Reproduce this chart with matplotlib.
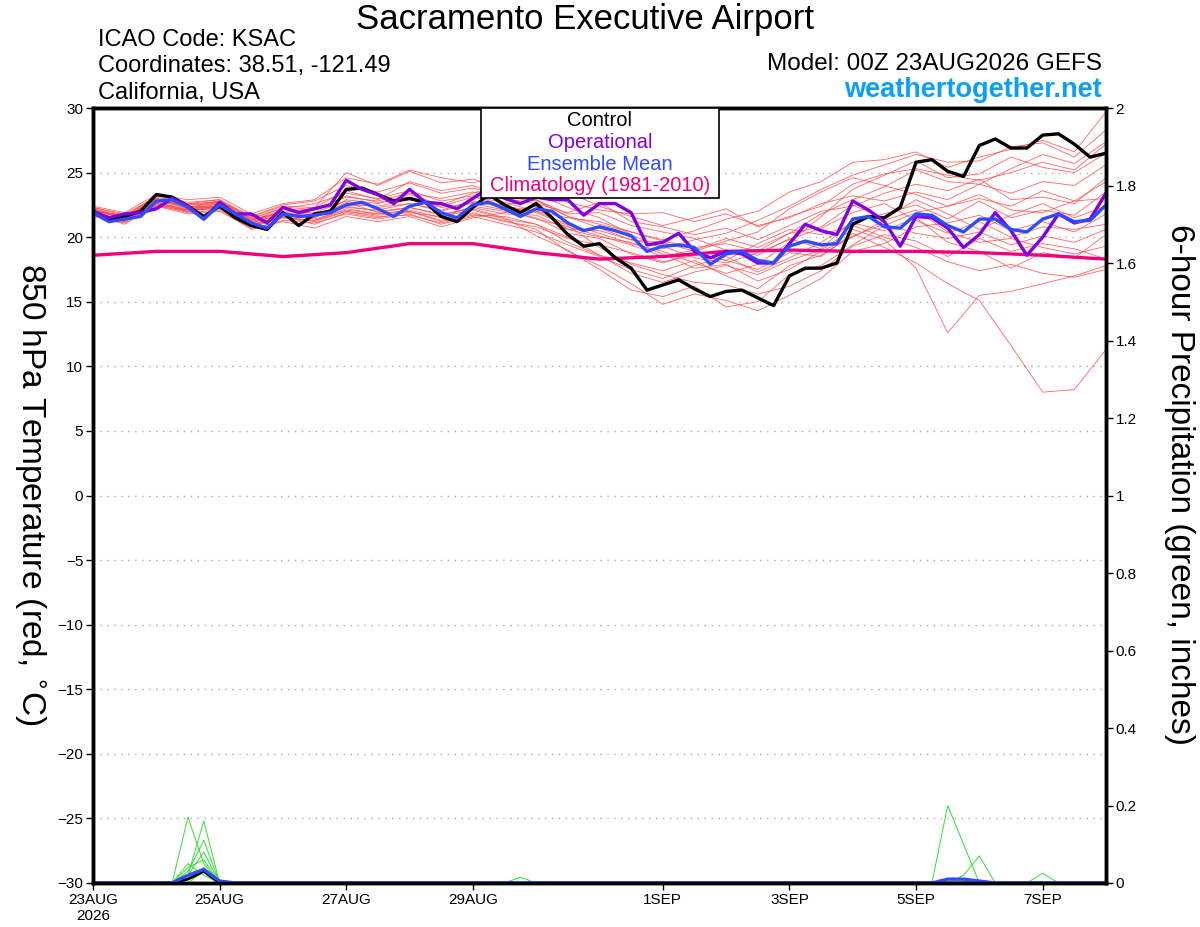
import matplotlib
matplotlib.use("Agg")
import matplotlib.pyplot as plt
import numpy as np
from matplotlib.patches import Rectangle

plt.rcParams.update({
    "font.family": ["Liberation Sans", "DejaVu Sans"],
    "font.size": 11,
})

# 6-hourly forecast steps, 00Z 23AUG2026 .. 00Z 08SEP2026
steps = np.arange(65) * 0.25           # days
member_steps = np.arange(33) * 0.5     # members read at 12-hourly points
clim_days = np.arange(17)

control = [22.0, 21.4, 21.6, 22.0, 23.3, 23.1, 22.4, 21.6, 22.4, 21.5, 20.9, 20.6, 21.9, 20.9, 21.8, 22.0,
           23.7, 23.8, 23.3, 22.8, 23.0, 22.7, 21.6, 21.2, 22.3, 23.3, 22.5, 21.9, 22.6, 21.5, 20.2, 19.3,
           19.5, 18.4, 17.6, 15.9, 16.3, 16.7, 16.0, 15.4, 15.8, 15.9, 15.3, 14.7, 17.0, 17.6, 17.6, 18.0,
           21.0, 21.6, 21.5, 22.3, 25.8, 26.0, 25.1, 24.7, 27.1, 27.6, 26.9, 26.9, 27.9, 28.0, 27.2, 26.2, 26.5]
operational = [22.0, 21.5, 21.8, 21.9, 22.2, 23.0, 22.4, 21.4, 22.7, 21.8, 21.8, 21.1, 22.3, 21.9, 22.2, 22.5,
               24.4, 23.7, 23.3, 22.6, 23.7, 22.7, 22.6, 22.2, 23.0, 23.8, 23.0, 22.6, 23.1, 22.9, 22.9, 21.7,
               22.6, 22.6, 21.9, 19.4, 19.6, 20.3, 18.9, 18.4, 18.9, 18.7, 18.0, 18.0, 19.5, 21.0, 20.5, 20.2,
               22.8, 22.1, 21.2, 19.3, 21.6, 21.5, 20.7, 19.2, 20.2, 21.9, 20.5, 18.6, 20.0, 21.8, 21.1, 21.4, 23.4]
ens_mean = [21.9, 21.2, 21.4, 21.6, 22.8, 22.9, 22.3, 21.4, 22.5, 21.8, 21.1, 20.7, 21.8, 21.6, 21.7, 21.9,
            22.5, 22.7, 22.2, 21.6, 22.4, 22.7, 21.9, 21.5, 22.5, 22.7, 22.2, 21.6, 22.2, 22.0, 21.1, 20.5,
            20.8, 20.5, 20.1, 18.9, 19.3, 19.4, 19.2, 17.9, 18.7, 18.9, 18.2, 18.0, 19.3, 19.7, 19.4, 19.5,
            21.4, 21.6, 20.8, 20.7, 21.8, 21.7, 20.9, 20.4, 21.4, 21.4, 20.6, 20.4, 21.4, 21.8, 21.2, 21.3, 22.5]
climatology = [18.6, 18.9, 18.9, 18.5, 18.8, 19.5, 19.5, 18.8, 18.3, 18.5, 18.9, 19.0, 18.9, 18.9, 18.8, 18.6, 18.3]

members = [
    [22.3, 21.8, 23.1, 22.6, 22.9, 21.6, 22.5, 22.8, 24.0, 23.5, 24.2, 23.4, 23.8, 23.2, 22.9, 21.6, 21.0,
     20.4, 19.8, 20.5, 21.4, 22.0, 23.5, 24.3, 25.8, 26.0, 26.6, 25.4, 26.2, 26.8, 27.5, 26.6, 29.7],
    [21.8, 21.3, 22.9, 22.2, 22.6, 21.3, 22.1, 22.3, 25.0, 24.0, 25.1, 24.2, 24.5, 23.7, 23.4, 22.3, 21.5,
     20.2, 19.1, 19.8, 20.3, 21.3, 22.4, 23.7, 24.8, 25.6, 26.4, 25.8, 25.9, 27.0, 27.3, 26.2, 28.3],
    [22.1, 21.6, 23.0, 22.5, 22.8, 21.4, 21.9, 21.5, 22.9, 22.6, 23.3, 22.5, 23.4, 24.2, 25.1, 23.5, 22.4,
     21.6, 20.9, 21.5, 22.2, 20.8, 21.6, 22.4, 24.1, 24.9, 25.3, 24.8, 24.4, 25.0, 25.8, 25.2, 27.2],
    [21.7, 21.2, 22.6, 22.0, 22.3, 20.9, 21.5, 21.3, 22.2, 21.8, 22.0, 21.3, 21.9, 21.2, 20.8, 19.9, 19.4,
     18.8, 18.1, 18.6, 18.2, 17.5, 18.8, 18.5, 20.3, 19.2, 18.0, 16.4, 15.1, 11.6, 8.0, 8.2, 11.3],
    [22.0, 21.5, 22.7, 22.4, 22.2, 20.9, 21.6, 21.2, 22.0, 21.7, 21.9, 21.6, 22.1, 21.4, 21.0, 20.0, 18.6,
     17.2, 16.5, 17.3, 17.8, 17.1, 18.2, 19.0, 20.6, 19.8, 17.6, 12.6, 15.5, 15.8, 16.4, 17.0, 17.8],
    [21.9, 21.3, 22.5, 22.1, 22.4, 21.0, 21.6, 21.0, 21.9, 21.5, 22.0, 21.2, 21.8, 21.3, 20.6, 18.9, 17.8,
     16.4, 14.8, 15.6, 15.1, 14.3, 15.5, 16.8, 18.9, 19.5, 20.8, 21.1, 21.7, 20.5, 21.2, 20.4, 21.8],
    [22.2, 21.5, 22.7, 22.1, 22.6, 21.2, 21.9, 21.6, 22.4, 22.0, 22.3, 21.8, 22.2, 21.5, 20.1, 19.0, 17.5,
     15.9, 15.4, 16.2, 14.6, 15.0, 17.1, 17.8, 19.4, 20.9, 21.9, 22.4, 23.0, 22.4, 23.6, 22.8, 24.3],
    [21.8, 21.4, 22.9, 22.4, 22.3, 21.2, 21.7, 21.9, 22.8, 22.3, 22.6, 22.0, 22.7, 22.5, 22.9, 21.8, 21.9,
     20.9, 20.4, 19.9, 19.0, 18.6, 19.9, 19.1, 21.3, 21.8, 22.5, 21.4, 22.8, 21.5, 22.1, 21.7, 23.5],
    [22.4, 21.9, 23.3, 22.9, 23.1, 21.8, 22.6, 22.9, 24.6, 24.1, 25.2, 24.6, 24.2, 24.8, 23.9, 22.7, 22.1,
     21.8, 21.9, 21.2, 21.8, 20.9, 21.5, 22.6, 23.2, 22.8, 23.5, 22.9, 24.1, 23.4, 24.3, 24.0, 25.6],
    [21.6, 21.1, 22.4, 21.8, 22.0, 20.7, 21.2, 20.7, 21.6, 21.2, 21.6, 20.8, 21.5, 21.9, 22.4, 20.6, 20.0,
     19.6, 18.7, 17.6, 17.9, 16.6, 17.5, 18.9, 20.0, 21.3, 22.1, 20.4, 19.6, 19.9, 19.2, 18.7, 19.3],
    [22.0, 21.7, 22.8, 22.6, 22.7, 21.5, 22.2, 22.6, 23.4, 23.0, 23.6, 22.8, 23.2, 22.4, 22.0, 21.0, 20.3,
     19.5, 18.9, 18.0, 17.2, 17.9, 19.6, 21.6, 23.7, 24.8, 25.9, 24.6, 24.9, 26.2, 25.4, 25.0, 26.5],
    [21.9, 21.2, 22.6, 22.0, 22.5, 21.1, 21.8, 21.4, 22.1, 21.8, 22.1, 21.5, 22.4, 22.0, 21.5, 20.3, 19.9,
     18.7, 18.0, 18.8, 18.2, 19.5, 20.6, 20.2, 20.9, 20.0, 19.2, 18.1, 17.4, 17.9, 17.2, 16.9, 17.5],
    [22.2, 21.6, 23.2, 22.7, 22.9, 21.4, 22.3, 21.8, 22.5, 22.4, 22.9, 22.4, 23.1, 22.7, 22.0, 21.5, 21.2,
     20.4, 19.7, 19.2, 19.5, 18.9, 20.3, 20.8, 22.5, 21.4, 22.9, 21.8, 20.6, 21.7, 22.6, 21.5, 22.4],
    [21.7, 21.0, 22.5, 21.9, 22.1, 20.6, 21.3, 21.1, 21.8, 21.4, 21.8, 21.0, 21.6, 21.0, 20.4, 19.4, 18.5,
     17.5, 16.8, 17.8, 18.5, 17.3, 18.4, 19.6, 21.1, 20.5, 21.5, 19.6, 18.9, 17.6, 18.8, 18.4, 20.2],
    [22.3, 21.7, 23.0, 22.3, 22.7, 21.3, 22.0, 22.2, 23.1, 22.8, 23.4, 23.0, 23.5, 23.0, 22.6, 21.9, 22.7,
     21.2, 20.8, 20.2, 20.7, 19.8, 20.9, 22.0, 22.4, 23.4, 24.1, 23.6, 24.5, 22.9, 23.1, 22.6, 24.6],
    [21.8, 21.3, 22.4, 22.0, 22.4, 21.0, 21.6, 21.5, 22.7, 21.9, 22.3, 21.7, 22.3, 21.8, 21.7, 20.6, 20.5,
     19.8, 19.3, 18.4, 18.0, 18.8, 19.8, 20.7, 21.9, 22.6, 21.3, 20.3, 21.2, 20.0, 20.8, 20.6, 21.0],
    [22.1, 21.5, 22.9, 22.3, 22.8, 21.6, 22.4, 22.3, 23.6, 22.9, 24.3, 23.6, 24.0, 23.1, 22.8, 21.6, 20.7,
     19.8, 19.6, 18.9, 19.7, 20.4, 22.2, 23.5, 24.6, 24.0, 23.3, 22.4, 23.3, 22.1, 21.9, 22.8, 23.0],
    [21.9, 21.4, 22.6, 22.2, 22.4, 21.1, 21.8, 21.6, 22.3, 22.1, 22.6, 22.1, 22.8, 22.3, 21.9, 20.9, 19.2,
     17.9, 17.1, 16.5, 16.3, 15.6, 16.2, 17.4, 19.3, 20.2, 19.7, 18.5, 19.9, 18.9, 19.5, 19.1, 18.3],
    [22.0, 21.6, 22.8, 22.5, 22.6, 21.3, 21.9, 22.1, 23.2, 22.7, 22.9, 22.3, 22.6, 22.1, 21.4, 20.8, 20.1,
     19.4, 18.5, 19.0, 19.9, 19.2, 20.3, 21.8, 22.9, 23.9, 25.2, 24.3, 24.1, 25.3, 26.4, 25.7, 27.4],
    [21.7, 21.2, 22.7, 22.1, 22.2, 20.8, 21.5, 21.3, 22.0, 21.6, 21.7, 21.1, 21.7, 21.6, 21.0, 19.6, 18.6,
     18.0, 17.4, 18.2, 17.0, 16.0, 17.8, 18.6, 20.1, 21.0, 20.3, 19.9, 20.4, 19.4, 20.1, 19.6, 20.6],
]

# 6-hour precipitation (inches), only non-zero steps listed: {step index: value}
precip_members = [
    {6: 0.17, 7: 0.05},
    {6: 0.02, 7: 0.16},
    {6: 0.03, 7: 0.11},
    {6: 0.02, 7: 0.08},
    {6: 0.04, 7: 0.06},
    {6: 0.01, 7: 0.04},
    {7: 0.03},
    {6: 0.05, 7: 0.02},
    {27: 0.015},
    {54: 0.20, 55: 0.10},
    {55: 0.02, 56: 0.07},
    {60: 0.025},
    {54: 0.01, 55: 0.005},
]
precip_mean = {6: 0.02, 7: 0.035, 8: 0.005, 54: 0.01, 55: 0.01, 56: 0.005}
precip_control = {6: 0.01, 7: 0.03}

tick_days = [0, 2, 4, 6, 9, 11, 13, 15]
tick_labels = ["23AUG\n2026", "25AUG", "27AUG", "29AUG", "1SEP", "3SEP", "5SEP", "7SEP"]


def expand(d):
    v = np.zeros(len(steps))
    for k, val in d.items():
        v[k] = val
    return v


W, H = 1200, 927
fig = plt.figure(figsize=(12, 9.27), dpi=100, facecolor="white")
x0, x1, y0, y1 = 93, 1106, 108, 883
ax = fig.add_axes([x0 / W, 1 - y1 / H, (x1 - x0) / W, (y1 - y0) / H])

for m in members:
    ax.plot(member_steps, m, color="#ff4a4a", lw=0.6, alpha=0.85, zorder=2)
ax.plot(clim_days, climatology, color="#f0007f", lw=2.4, zorder=3)
ax.plot(steps, control, color="black", lw=2.4, zorder=4)
ax.plot(steps, operational, color="#8000e0", lw=2.4, zorder=5)
ax.plot(steps, ens_mean, color="#2e4cff", lw=2.4, zorder=6)

ax.set_xlim(0, 16)
ax.set_ylim(-30, 30)
ax.set_yticks(np.arange(-30, 31, 5))
ax.set_xticks(tick_days)
ax.set_xticklabels(tick_labels)
for yv in np.arange(-25, 30, 5):
    ax.axhline(yv, color="#aaaaaa", lw=1.0, ls=(0, (1, 4)), zorder=1)
ax.tick_params(axis="both", direction="out", length=5, width=1, labelsize=11, pad=2)
for s in ax.spines.values():
    s.set_linewidth(2.5)

ax2 = ax.twinx()
for p in precip_members:
    ax2.plot(steps, expand(p), color="#33dd33", lw=0.7)
ax2.plot(steps, expand(precip_control), color="black", lw=2.0)
ax2.plot(steps, expand(precip_mean), color="#2e4cff", lw=2.4)
ax2.set_ylim(0, 2)
ax2.set_yticks(np.arange(0, 2.01, 0.2))
ax2.set_yticklabels(["0", "0.2", "0.4", "0.6", "0.8", "1", "1.2", "1.4", "1.6", "1.8", "2"])
ax2.tick_params(axis="y", direction="out", length=5, width=1, labelsize=11, pad=2)
for s in ax2.spines.values():
    s.set_linewidth(2.5)

# axis titles, both read top to bottom
fig.text(30 / W, 1 - 494 / H, "850 hPa Temperature (red, $^{\\circ}$C)", fontsize=24,
         rotation=270, ha="center", va="center")
fig.text(1179 / W, 1 - 484 / H, "6-hour Precipitation (green, inches)", fontsize=24,
         rotation=270, ha="center", va="center")

# header texts
fig.text(585 / W, 1 - 19 / H, "Sacramento Executive Airport", fontsize=25, ha="center", va="center")
fig.text(98 / W, 1 - 40 / H, "ICAO Code: KSAC", fontsize=17, ha="left", va="center")
fig.text(98 / W, 1 - 66 / H, "Coordinates: 38.51, -121.49", fontsize=17, ha="left", va="center")
fig.text(98 / W, 1 - 93 / H, "California, USA", fontsize=17, ha="left", va="center")
fig.text(1102 / W, 1 - 64 / H, "Model: 00Z 23AUG2026 GEFS", fontsize=17.5, ha="right", va="center")
fig.text(1102 / W, 1 - 90 / H, "weathertogether.net", fontsize=19.5, fontweight="bold",
         color="#0aa0f5", ha="right", va="center")

# legend box
fig.add_artist(Rectangle((481 / W, 1 - 198 / H), 238 / W, 90 / H, transform=fig.transFigure,
                         facecolor="white", edgecolor="black", lw=1.2, zorder=5))
legend_items = [("Control", "black"), ("Operational", "#8000e0"),
                ("Ensemble Mean", "#2e4cff"), ("Climatology (1981-2010)", "#f0007f")]
for k, (lab, col) in enumerate(legend_items):
    fig.text(600 / W, 1 - (121 + 21.5 * k) / H, lab, color=col, fontsize=14.5,
             ha="center", va="center", zorder=6)

fig.savefig("out.png", dpi=100, facecolor="white")
